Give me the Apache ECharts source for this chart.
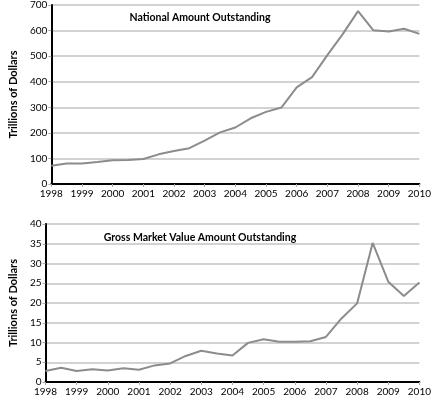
<!DOCTYPE html>
<html>
<head>
<meta charset="utf-8">
<script src="https://cdn.jsdelivr.net/npm/echarts@6/dist/echarts.min.js"></script>
<style>
  html, body { margin: 0; padding: 0; background: #fff; }
  #chart { width: 434px; height: 397px; }
</style>
</head>
<body>
<div id="chart"></div>
<script>
// half-year steps, 1998 .. 2010
var periods = [1998, 1998.5, 1999, 1999.5, 2000, 2000.5, 2001, 2001.5, 2002, 2002.5,
               2003, 2003.5, 2004, 2004.5, 2005, 2005.5, 2006, 2006.5, 2007, 2007.5,
               2008, 2008.5, 2009, 2009.5, 2010];
var notional = [71, 80, 80, 86, 93, 94, 98, 116, 129, 140,
                170, 202, 221, 257, 282, 299, 378, 418, 504, 586,
                676, 601, 596, 607, 587];
var grossValue = [2.8, 3.6, 2.8, 3.2, 2.9, 3.5, 3.1, 4.2, 4.7, 6.6,
                  7.9, 7.2, 6.7, 9.9, 10.8, 10.2, 10.2, 10.3, 11.4, 16.1,
                  19.9, 35.2, 25.4, 21.8, 25.2];
var titles = ["National Amount Outstanding", "Gross Market Value Amount Outstanding"];
var yName = "Trillions of Dollars";

function pairs(vals){
	var out = [];
	for(var i=0;i<periods.length;i++){
		out.push([periods[i], vals[i]]);
	}
	return out;
}

var font = "Lato";
var lineGray = "#8c8c8c";

function xAxis(idx){
	return {
		type: 'value', gridIndex: idx, min: 1998, max: 2010, interval: 1,
		axisLine: { lineStyle: { color: '#000', width: 2 } },
		axisTick: { show: true, length: 3, lineStyle: { color: '#aaa' } },
		axisLabel: { color: '#000', fontFamily: font, fontSize: 10, margin: 5,
			formatter: function(v){ return String(v); } },
		splitLine: { show: false }
	};
}
function yAxis(idx, max, step){
	return {
		type: 'value', gridIndex: idx, min: 0, max: max, interval: step,
		name: yName, nameLocation: 'middle', nameGap: 26, nameRotate: 90,
		nameTextStyle: { color: '#000', fontFamily: font, fontSize: 11, fontWeight: 'bold' },
		axisLine: { show: true, lineStyle: { color: '#000', width: 2 } },
		axisTick: { show: true, length: 3, lineStyle: { color: '#aaa' } },
		axisLabel: { color: '#000', fontFamily: font, fontSize: 10, margin: 4 },
		splitLine: { show: true, lineStyle: { color: '#d2d2d2', width: 2 } }
	};
}

var chart = echarts.init(document.getElementById('chart'));
chart.setOption({
	animation: false,
	title: [
		{ text: titles[0], left: 195, top: 7, textAlign: 'center',
		  textStyle: { fontFamily: font, fontSize: 10.5, fontWeight: 'bold', color: '#000' } },
		{ text: titles[1], left: 195, top: 227, textAlign: 'center',
		  textStyle: { fontFamily: font, fontSize: 10.5, fontWeight: 'bold', color: '#000' } }
	],
	grid: [
		{ left: 33, right: 10, top: 3, height: 181 },
		{ left: 33, right: 10, top: 224, height: 158 }
	],
	xAxis: [xAxis(0), xAxis(1)],
	yAxis: [yAxis(0, 700, 100), yAxis(1, 40, 5)],
	series: [
		{ type: 'line', xAxisIndex: 0, yAxisIndex: 0, data: pairs(notional),
		  showSymbol: false, lineStyle: { color: lineGray, width: 2 } },
		{ type: 'line', xAxisIndex: 1, yAxisIndex: 1, data: pairs(grossValue),
		  showSymbol: false, lineStyle: { color: lineGray, width: 2 } }
	]
});
</script>
</body>
</html>
